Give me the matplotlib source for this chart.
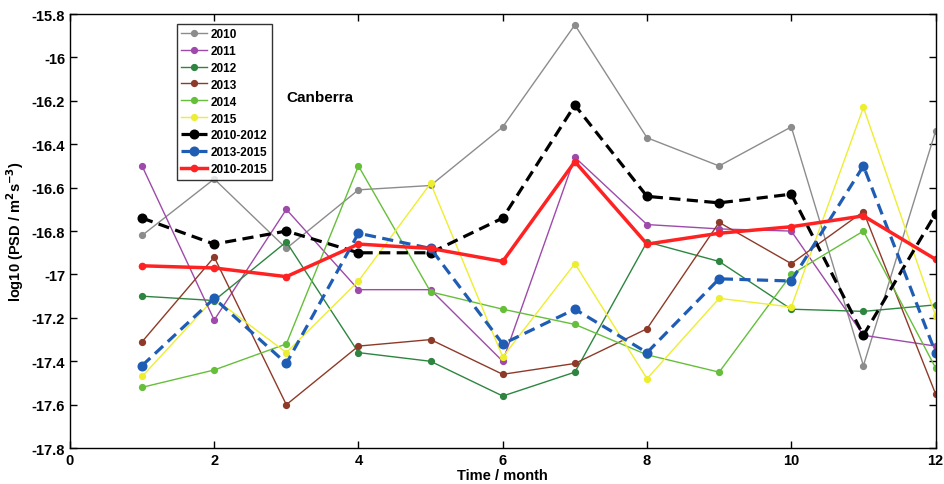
import matplotlib
matplotlib.use("Agg")
import matplotlib.pyplot as plt

plt.rcParams['font.family'] = ['Liberation Sans', 'DejaVu Sans']
plt.rcParams['font.weight'] = 'bold'

months = list(range(1, 13))
y2010 = [-16.82, -16.56, -16.88, -16.61, -16.59, -16.32, -15.85, -16.37, -16.50, -16.32, -17.42, -16.34]
y2011 = [-16.50, -17.21, -16.70, -17.07, -17.07, -17.40, -16.46, -16.77, -16.79, -16.80, -17.28, -17.33]
y2012 = [-17.10, -17.12, -16.85, -17.36, -17.40, -17.56, -17.45, -16.85, -16.94, -17.16, -17.17, -17.14]
y2013 = [-17.31, -16.92, -17.60, -17.33, -17.30, -17.46, -17.41, -17.25, -16.76, -16.95, -16.71, -17.55]
y2014 = [-17.52, -17.44, -17.32, -16.50, -17.08, -17.16, -17.23, -17.37, -17.45, -17.00, -16.80, -17.43]
y2015 = [-17.47, -17.11, -17.36, -17.03, -16.58, -17.38, -16.95, -17.48, -17.11, -17.15, -16.23, -17.19]
y1012 = [-16.74, -16.86, -16.80, -16.90, -16.90, -16.74, -16.22, -16.64, -16.67, -16.63, -17.28, -16.72]
y1315 = [-17.42, -17.11, -17.41, -16.81, -16.88, -17.32, -17.16, -17.36, -17.02, -17.03, -16.50, -17.36]
y1015 = [-16.96, -16.97, -17.01, -16.86, -16.88, -16.94, -16.48, -16.86, -16.81, -16.78, -16.73, -16.93]

xticks = [0, 2, 4, 6, 8, 10, 12]
yticks = [-17.8, -17.6, -17.4, -17.2, -17.0, -16.8, -16.6, -16.4, -16.2, -16.0, -15.8]
yticklabels = ['-17.8', '-17.6', '-17.4', '-17.2', '-17', '-16.8', '-16.6', '-16.4', '-16.2', '-16', '-15.8']

fig = plt.figure(figsize=(9.45, 4.85), dpi=100)
ax = fig.add_axes([0.074, 0.074, 0.916, 0.895])

thin = [
    (y2010, '2010', '#8c8c8c'),
    (y2011, '2011', '#9e4aaa'),
    (y2012, '2012', '#2e8540'),
    (y2013, '2013', '#8e3a28'),
    (y2014, '2014', '#66bf3a'),
    (y2015, '2015', '#eeee30'),
]
for ys, lab, c in thin:
    ax.plot(months, ys, '-', color=c, lw=1.0, marker='o', ms=4.2, mec=c, mfc=c, label=lab)

ax.plot(months, y1012, '--', color='black', lw=2.3, marker='o', ms=6.2, label='2010-2012', dashes=(3.5, 2))
ax.plot(months, y1315, '--', color='#1f5db5', lw=2.3, marker='o', ms=6.2, label='2013-2015', dashes=(3.5, 2))
ax.plot(months, y1015, '-', color='#ff2222', lw=2.5, marker='o', ms=4.5, label='2010-2015')

ax.set_xlim(0, 12)
ax.set_ylim(-17.8, -15.8)
ax.set_xticks(xticks)
ax.set_yticks(yticks)
ax.set_yticklabels(yticklabels)
ax.tick_params(direction='in', top=True, right=True, labelsize=10.5, length=5, width=1)
for s in ax.spines.values():
    s.set_linewidth(1.0)

ax.set_xlabel('Time / month', fontsize=10.5, fontweight='bold', labelpad=1)
ax.set_ylabel(r'log10 (PSD / m$^{\mathbf{2}}$s$^{\mathbf{-3}}$)', fontsize=10.5, fontweight='bold', labelpad=4)

ax.text(3.0, -16.18, 'Canberra', fontsize=11, fontweight='bold', va='center', ha='left')

leg = ax.legend(loc='upper left', bbox_to_anchor=(0.124, 0.978), fontsize=8.5, frameon=True,
                fancybox=False, edgecolor='black', handlelength=2.2, handletextpad=0.3,
                borderpad=0.35, labelspacing=0.42, borderaxespad=0)
leg.get_frame().set_linewidth(1.0)
for t in leg.get_texts():
    t.set_fontweight('bold')

fig.savefig('out.png', dpi=100)
